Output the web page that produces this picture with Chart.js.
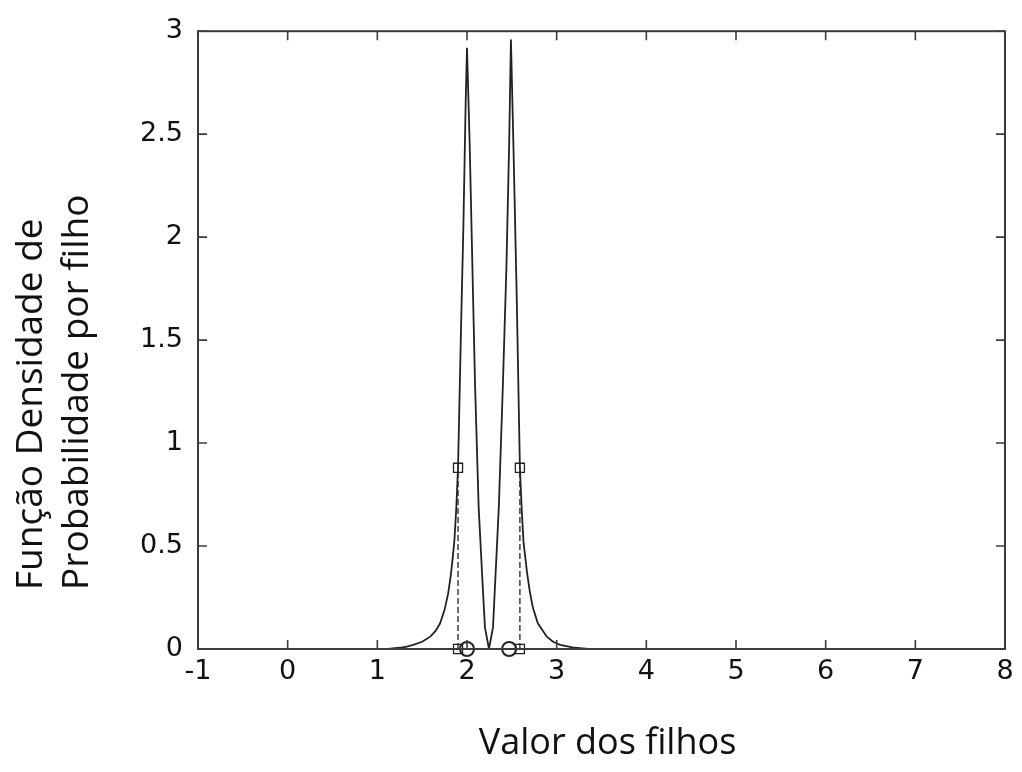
<!DOCTYPE html>
<html>
<head>
<meta charset="utf-8">
<title>Valor dos filhos</title>
<script src="https://cdn.jsdelivr.net/npm/chart.js@4/dist/chart.umd.min.js"></script>
<style>
  html, body { margin: 0; padding: 0; background: #fff; }
  canvas { display: block; }
</style>
</head>
<body>
<canvas id="pdf" width="1022" height="772"></canvas>
<script>
// density curve (two peaks)
const curveX = [1.12, 1.25, 1.33, 1.40, 1.50, 1.59, 1.65, 1.70, 1.75, 1.79, 1.82, 1.84, 1.86, 1.88, 1.90,
  1.93, 1.96, 1.985, 2.00, 2.03, 2.06, 2.09, 2.13, 2.17, 2.20, 2.245, 2.29, 2.355, 2.40, 2.44, 2.47,
  2.49, 2.52, 2.555, 2.59, 2.61, 2.63, 2.67, 2.70, 2.735, 2.79, 2.89, 2.96, 3.04, 3.20, 3.35]
const curveY = [0.00, 0.006, 0.012, 0.02, 0.035, 0.06, 0.088, 0.125, 0.19, 0.27, 0.36, 0.44, 0.53, 0.68, 0.88,
  1.49, 2.06, 2.65, 2.92, 2.45, 1.86, 1.28, 0.69, 0.35, 0.105, 0.00, 0.105, 0.69, 1.28, 1.86, 2.45,
  2.96, 2.40, 1.70, 0.88, 0.68, 0.52, 0.37, 0.28, 0.20, 0.125, 0.06, 0.035, 0.02, 0.006, 0.00]

// square markers and the dashed drop lines under them
const squareX = [1.90, 2.59]
const squareY = [0.88, 0.88]

// circle markers on the axis
const circleX = [2.00, 2.47]
const circleY = [0, 0]

const xMin = -1, xMax = 8, xStep = 1
const yMin = 0, yMax = 3, yStep = 0.5

const xTitle = "Valor dos filhos"
const yTitle = ["Função Densidade de", "Probabilidade por filho"]

const ink = "#222"

const curve = curveX.map((x, i) => ({ x: x, y: curveY[i] }))

const squares = []
squareX.forEach((x, i) => {
  squares.push({ x: x, y: squareY[i] })
  squares.push({ x: x, y: 0 })
})

const drops = squareX.map((x, i) => ({
  data: [{ x: x, y: 0 }, { x: x, y: squareY[i] }],
  showLine: true,
  borderColor: ink,
  borderWidth: 1.3,
  borderDash: [6, 3],
  pointRadius: 0
}))

// box, inward ticks and axis titles
const frame = {
  id: "frame",
  afterDraw(chart) {
    const ctx = chart.ctx
    const a = chart.chartArea
    const sx = chart.scales.x
    const sy = chart.scales.y
    ctx.save()
    ctx.strokeStyle = "#3c3c3c"
    ctx.lineWidth = 2
    ctx.strokeRect(a.left, a.top, a.right - a.left, a.bottom - a.top)

    ctx.lineWidth = 1.6
    ctx.beginPath()
    sx.ticks.forEach(t => {
      const p = sx.getPixelForValue(t.value)
      ctx.moveTo(p, a.bottom); ctx.lineTo(p, a.bottom - 9)
      ctx.moveTo(p, a.top); ctx.lineTo(p, a.top + 9)
    })
    sy.ticks.forEach(t => {
      const p = sy.getPixelForValue(t.value)
      ctx.moveTo(a.left, p); ctx.lineTo(a.left + 9, p)
      ctx.moveTo(a.right, p); ctx.lineTo(a.right - 9, p)
    })
    ctx.stroke()

    ctx.fillStyle = "#111"
    ctx.font = '36px "Open Sans"'
    ctx.textAlign = "center"
    ctx.textBaseline = "middle"
    ctx.fillText(xTitle, (a.left + a.right) / 2 + 6, 744)

    ctx.font = '37px "Open Sans"'
    ctx.textAlign = "left"
    const cols = [31, 77]
    yTitle.forEach((line, i) => {
      ctx.save()
      ctx.translate(cols[i], 590)
      ctx.rotate(-Math.PI / 2)
      ctx.fillText(line, 0, 0)
      ctx.restore()
    })
    ctx.restore()
  }
}

const tickFont = { family: "DejaVu Sans", size: 27 }

new Chart(document.getElementById("pdf"), {
  type: "scatter",
  data: {
    datasets: [
      {
        data: curve,
        showLine: true,
        borderColor: ink,
        borderWidth: 1.8,
        pointRadius: 0,
        tension: 0
      },
      ...drops,
      {
        data: squares,
        pointStyle: "rect",
        pointRadius: 6.4,
        pointBorderColor: ink,
        pointBackgroundColor: "rgba(255,255,255,0)",
        pointBorderWidth: 1.3,
        clip: false
      },
      {
        data: circleX.map((x, i) => ({ x: x, y: circleY[i] })),
        pointStyle: "circle",
        pointRadius: 7,
        pointBorderColor: ink,
        pointBackgroundColor: "rgba(255,255,255,0)",
        pointBorderWidth: 2,
        clip: false
      }
    ]
  },
  options: {
    responsive: false,
    animation: false,
    devicePixelRatio: 1,
    layout: { padding: { top: 26, right: 17, left: 0, bottom: 0 } },
    plugins: { legend: { display: false }, tooltip: { enabled: false } },
    scales: {
      x: {
        type: "linear",
        min: xMin,
        max: xMax,
        grid: { display: false, drawTicks: false },
        border: { display: false },
        ticks: {
          stepSize: xStep,
          padding: 7,
          maxRotation: 0,
          autoSkip: false,
          color: "#111",
          font: tickFont,
          callback: v => String(v)
        },
        afterFit(s) { s.height = 123 }
      },
      y: {
        type: "linear",
        min: yMin,
        max: yMax,
        grid: { display: false, drawTicks: false },
        border: { display: false },
        ticks: {
          stepSize: yStep,
          padding: 15,
          color: "#111",
          font: tickFont,
          callback: v => String(v)
        },
        afterFit(s) { s.width = 198 }
      }
    }
  },
  plugins: [frame]
})
</script>
</body>
</html>
